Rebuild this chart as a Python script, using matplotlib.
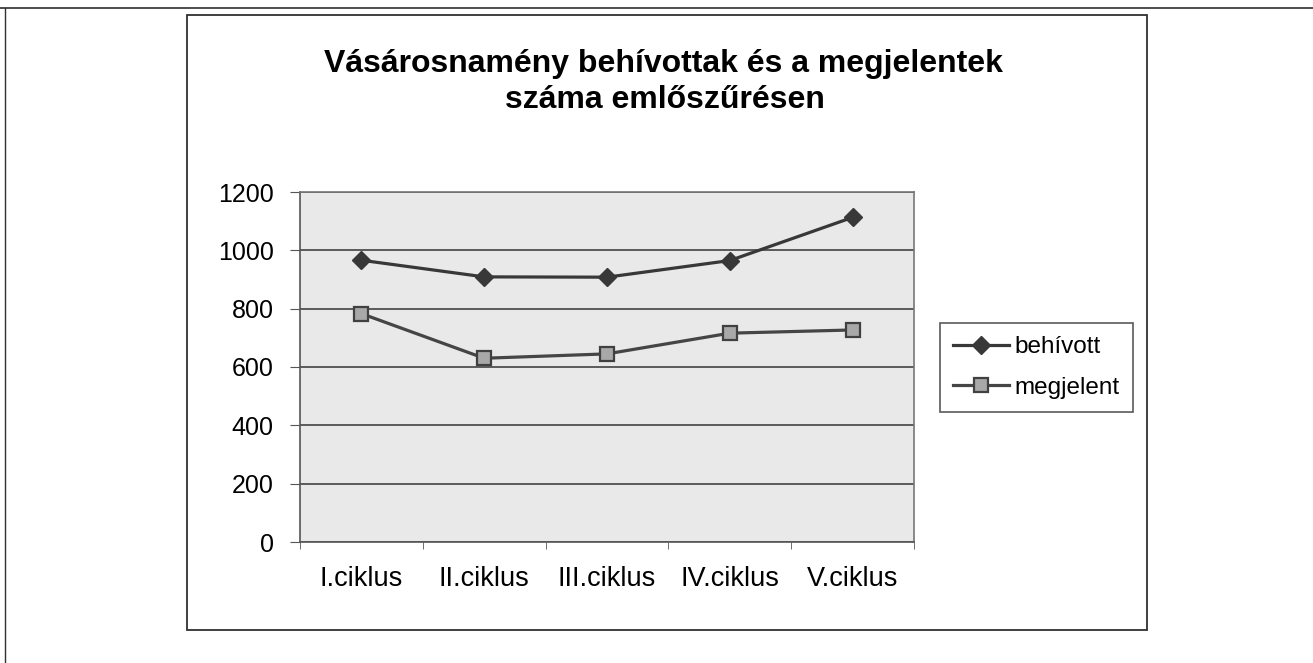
import matplotlib
matplotlib.use("Agg")
from matplotlib import pyplot as plt
from matplotlib.patches import Rectangle
from matplotlib.lines import Line2D

plt.rcParams['font.family'] = ['Liberation Sans', 'DejaVu Sans']

# data
categories = ["I.ciklus", "II.ciklus", "III.ciklus", "IV.ciklus", "V.ciklus"]
behivott = [966, 909, 908, 965, 1113]
megjelent = [783, 630, 645, 716, 727]
y_ticks = [0, 200, 400, 600, 800, 1000, 1200]

W, H = 1313, 663
fig = plt.figure(figsize=(W / 100, H / 100), dpi=100)
fig.patch.set_facecolor("white")

# page lines (scan edges) and chart frame
fig.add_artist(Line2D([0, 1], [1 - 8 / H, 1 - 8 / H], color="#303030", lw=1.2))
fig.add_artist(Line2D([5 / W, 5 / W], [0, 1 - 8 / H], color="#303030", lw=1.0))
fig.add_artist(Rectangle((187 / W, 33 / H), 960 / W, 615 / H, fill=False,
                         edgecolor="#303030", lw=1.3, transform=fig.transFigure))

ax = fig.add_axes([300 / W, 121 / H, 614 / W, 350 / H])
ax.set_facecolor("#e9e9e9")
x = list(range(len(categories)))

ax.plot(x, behivott, color="#383838", lw=2.3, marker="D", markersize=9.5,
        markerfacecolor="#383838", markeredgecolor="#383838", label="behívott", zorder=3)
ax.plot(x, megjelent, color="#454545", lw=2.3, marker="s", markersize=10,
        markerfacecolor="#a8a8a8", markeredgecolor="#404040", markeredgewidth=1.6,
        label="megjelent", zorder=3)

ax.set_xlim(-0.5, len(categories) - 0.5)
ax.set_ylim(0, 1200)
ax.set_yticks(y_ticks)
ax.set_yticklabels([str(v) for v in y_ticks], fontsize=18)
ax.yaxis.grid(True, color="#505050", lw=1.3)
ax.set_axisbelow(True)

ax.set_xticks(x)
ax.set_xticklabels(categories, fontsize=19.5)
ax.set_xticks([i - 0.5 for i in range(len(categories) + 1)], minor=True)
ax.tick_params(axis="x", which="major", length=0, pad=17)
ax.tick_params(axis="x", which="minor", length=5, color="#555555")
ax.tick_params(axis="y", length=7, color="#555555", pad=12)

for s in ax.spines.values():
    s.set_color("#777777")
    s.set_linewidth(1.2)
ax.spines["left"].set_color("#555555")
ax.spines["bottom"].set_color("#555555")

fig.text(663 / W, 1 - 72 / H, "Vásárosnamény behívottak és a megjelentek",
         ha="center", va="baseline", fontsize=23, fontweight="bold")
fig.text(665 / W, 1 - 108 / H, "száma emlőszűrésen",
         ha="center", va="baseline", fontsize=23, fontweight="bold")

leg = fig.legend(loc="upper left", bbox_to_anchor=(940 / W, 1 - 323 / H),
                 borderaxespad=0, fontsize=17.5, frameon=True, fancybox=False,
                 borderpad=0.55, handlelength=2.3, handletextpad=0.2,
                 labelspacing=0.75)
leg.get_frame().set_edgecolor("#303030")
leg.get_frame().set_linewidth(1.2)

fig.savefig("out.png", dpi=100)
